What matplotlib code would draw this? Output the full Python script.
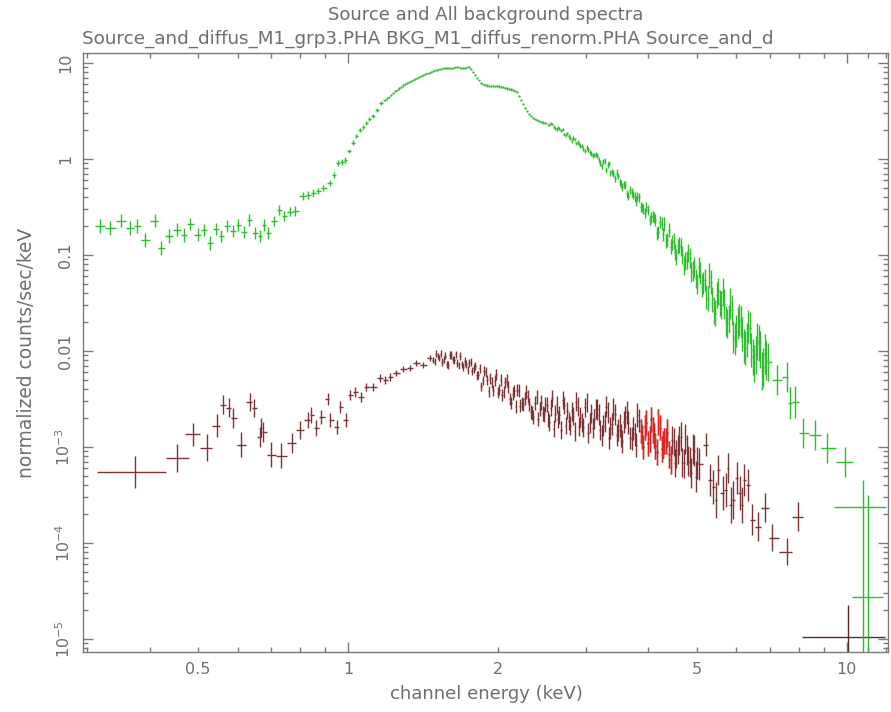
import numpy as np
import matplotlib
matplotlib.use("Agg")
import matplotlib.pyplot as plt
from matplotlib.ticker import FixedLocator, FixedFormatter, NullFormatter

# ---------------- data (energy keV, normalized counts/sec/keV, error in dex) ----------------
# Source spectrum (green), low-energy sparse bins
src_lo_E = [0.318, 0.333, 0.351, 0.366, 0.378, 0.392, 0.410, 0.422, 0.438, 0.454, 0.469, 0.482,
            0.500, 0.514, 0.529, 0.544, 0.556, 0.572, 0.588, 0.602, 0.619, 0.634, 0.651, 0.667,
            0.679, 0.691, 0.711, 0.727, 0.744, 0.765, 0.783, 0.812, 0.831, 0.851, 0.871, 0.891,
            0.920, 0.937, 0.955, 0.973, 0.986, 1.005, 1.023, 1.038, 1.058, 1.072, 1.087, 1.102,
            1.122, 1.143, 1.164]
src_lo_v = [0.200, 0.191, 0.226, 0.191, 0.200, 0.143, 0.226, 0.118, 0.158, 0.182, 0.162, 0.210,
            0.162, 0.182, 0.133, 0.187, 0.158, 0.200, 0.178, 0.205, 0.174, 0.232, 0.170, 0.158,
            0.205, 0.170, 0.226, 0.294, 0.255, 0.281, 0.287, 0.412, 0.422, 0.443, 0.464, 0.499,
            0.562, 0.681, 0.908, 0.931, 0.977, 1.21, 1.47, 1.74, 2.00, 2.15, 2.37, 2.61,
            2.81, 3.24, 3.83]
src_lo_err = [0.07, 0.07, 0.068, 0.07, 0.07, 0.072, 0.068, 0.075, 0.07, 0.068, 0.07, 0.065, 0.068,
              0.066, 0.07, 0.065, 0.066, 0.062, 0.064, 0.062, 0.064, 0.06, 0.062, 0.062, 0.058,
              0.06, 0.055, 0.05, 0.05, 0.048, 0.048, 0.04, 0.04, 0.038, 0.036, 0.035, 0.033,
              0.032, 0.03, 0.029, 0.028, 0.026, 0.025, 0.024, 0.022, 0.021, 0.02, 0.02,
              0.02, 0.019, 0.018]

# Source spectrum, peak region (two interleaved channel sets)
src_mid_E = [1.186, 1.208, 1.231, 1.254, 1.277, 1.301, 1.325, 1.350, 1.375, 1.400, 1.427, 1.453,
             1.480, 1.508, 1.536, 1.565, 1.594, 1.624, 1.654, 1.685, 1.716, 1.748, 1.781, 1.814,
             1.848, 1.882, 1.917, 1.953, 1.989, 2.026, 2.064, 2.102, 2.141, 2.182, 2.222, 2.263,
             2.305, 2.349, 2.392, 2.436, 2.482]
src_mid_v = [4.12, 4.43, 4.87, 5.23, 5.62, 6.04, 6.34, 6.65, 6.98, 7.33, 7.68, 7.87, 8.25, 8.45,
             8.66, 8.87, 8.87, 8.87, 9.09, 8.87, 8.87, 9.09, 8.06, 6.98, 6.19, 5.90, 5.76, 5.76,
             5.76, 5.62, 5.49, 5.36, 5.23, 4.99, 4.12, 3.40, 2.94, 2.67, 2.55, 2.43, 2.37]
src_mid_err = [0.012, 0.011, 0.012, 0.011, 0.01, 0.011, 0.01, 0.01, 0.011, 0.01,
               0.01, 0.009, 0.01, 0.009, 0.01, 0.009, 0.009, 0.01, 0.009, 0.009,
               0.009, 0.01, 0.009, 0.009, 0.01, 0.01, 0.01, 0.011, 0.01, 0.011,
               0.011, 0.011, 0.012, 0.012, 0.012, 0.013, 0.013, 0.013, 0.014, 0.014, 0.015]
src_mid2_E = [1.197, 1.219, 1.242, 1.265, 1.289, 1.313, 1.338, 1.362, 1.388, 1.413, 1.440, 1.466,
              1.494, 1.522, 1.550, 1.579, 1.609, 1.639, 1.669, 1.700, 1.732, 1.764, 1.797, 1.830,
              1.865, 1.899, 1.935, 1.971, 2.007, 2.045, 2.083, 2.122, 2.161, 2.202, 2.243, 2.284,
              2.327, 2.370, 2.414, 2.459]
src_mid2_v = [4.27, 4.64, 5.05, 5.42, 5.83, 6.19, 6.49, 6.81, 7.15, 7.50, 7.78, 8.06, 8.35, 8.56,
              8.76, 8.87, 8.76, 8.98, 8.98, 8.87, 8.98, 8.66, 7.50, 6.57, 5.97, 5.83, 5.76, 5.69,
              5.69, 5.56, 5.42, 5.30, 5.11, 4.53, 3.74, 3.16, 2.81, 2.61, 2.49, 2.40]
src_mid2_err = [0.012, 0.012, 0.011, 0.011, 0.011, 0.01, 0.01, 0.011, 0.01, 0.01,
                0.009, 0.01, 0.009, 0.009, 0.009, 0.01, 0.009, 0.009, 0.009, 0.01,
                0.009, 0.009, 0.01, 0.01, 0.01, 0.011, 0.01, 0.01, 0.011, 0.011,
                0.011, 0.012, 0.012, 0.012, 0.013, 0.013, 0.013, 0.014, 0.014, 0.015]

# Source spectrum, high-energy dense region (two interleaved channel sets)
src_hi_E = [2.528, 2.563, 2.599, 2.635, 2.673, 2.710, 2.748, 2.786, 2.824, 2.864, 2.903, 2.944,
            2.985, 3.027, 3.069, 3.112, 3.155, 3.199, 3.244, 3.289, 3.334, 3.381, 3.428, 3.476,
            3.524, 3.573, 3.623, 3.674, 3.725, 3.777, 3.830, 3.883, 3.937, 3.992, 4.048, 4.104,
            4.161, 4.220, 4.278, 4.338, 4.399, 4.460, 4.522, 4.585, 4.649, 4.713, 4.779, 4.846,
            4.913, 4.982, 5.051, 5.122, 5.193, 5.265, 5.339, 5.413, 5.488, 5.565, 5.642, 5.721,
            5.800, 5.881, 5.963, 6.046, 6.130, 6.216, 6.302, 6.390, 6.479, 6.569, 6.661, 6.754,
            6.848, 6.943]
src_hi_v = [2.274, 2.316, 2.078, 2.116, 1.981, 1.800, 1.844, 1.645, 1.665, 1.450, 1.433, 1.374,
            1.219, 1.256, 1.134, 1.101, 1.075, 0.908, 0.942, 0.768, 0.898, 0.732, 0.626, 0.665,
            0.549, 0.543, 0.427, 0.475, 0.422, 0.365, 0.397, 0.312, 0.274, 0.291, 0.246, 0.243,
            0.1675, 0.2207, 0.1634, 0.1399, 0.1821, 0.1349, 0.1075, 0.1226, 0.1212, 0.0777,
            0.0887, 0.0931, 0.0681, 0.0569, 0.0732, 0.0475, 0.0549, 0.0348, 0.0517, 0.0261,
            0.0383, 0.0316, 0.0412, 0.0205, 0.0215, 0.0267, 0.01334, 0.01957, 0.02005, 0.01128,
            0.01302, 0.01738, 0.00866, 0.00909, 0.01212, 0.00619, 0.00930, 0.00768]
src_hi_err = [0.015, 0.015, 0.016, 0.016, 0.017, 0.018, 0.018, 0.019, 0.02, 0.02, 0.021, 0.022,
              0.022, 0.023, 0.024, 0.025, 0.026,
              0.028, 0.03, 0.032, 0.03, 0.034, 0.036, 0.035, 0.038, 0.04, 0.042, 0.04, 0.045,
              0.048, 0.046, 0.05, 0.055, 0.052,
              0.06, 0.058, 0.065, 0.062, 0.07, 0.075, 0.07, 0.08, 0.085, 0.08, 0.09, 0.095,
              0.09, 0.1, 0.105, 0.1, 0.11,
              0.12, 0.115, 0.13, 0.125, 0.14, 0.135, 0.14, 0.15, 0.16, 0.15, 0.16, 0.17, 0.165,
              0.17, 0.18, 0.18, 0.17, 0.19, 0.2, 0.19, 0.2, 0.21, 0.2]
src_hi2_E = [2.546, 2.581, 2.617, 2.653, 2.692, 2.729, 2.767, 2.805, 2.844, 2.884, 2.923, 2.964,
             3.006, 3.048, 3.090, 3.134, 3.177, 3.221, 3.267, 3.312, 3.357, 3.404, 3.452, 3.500,
             3.548, 3.598, 3.648, 3.700, 3.751, 3.803, 3.857, 3.910, 3.964, 4.020, 4.076, 4.132,
             4.190, 4.249, 4.308, 4.368, 4.430, 4.491, 4.553, 4.617, 4.681, 4.746, 4.812, 4.880,
             4.947, 5.017, 5.086, 5.158, 5.229, 5.302, 5.376, 5.451, 5.526, 5.604, 5.681, 5.761,
             5.840, 5.922, 6.004, 6.088, 6.173, 6.259, 6.346, 6.434, 6.524, 6.615, 6.707, 6.801,
             6.896]
src_hi2_v = [2.357, 2.154, 2.041, 2.066, 2.029, 1.757, 1.726, 1.540, 1.596, 1.495, 1.366, 1.271,
             1.318, 1.183, 1.088, 1.107, 0.988, 0.846, 0.947, 0.861, 0.715, 0.702, 0.719, 0.573,
             0.508, 0.536, 0.412, 0.448, 0.407, 0.402, 0.316, 0.298, 0.314, 0.2315, 0.2533,
             0.2301, 0.1726, 0.2116, 0.2091, 0.1433, 0.1219, 0.1390, 0.0959, 0.1264, 0.1006,
             0.0861, 0.1049, 0.0665, 0.0745, 0.0502, 0.0649, 0.0511, 0.0365, 0.0608, 0.0346,
             0.0249, 0.0417, 0.0301, 0.0309, 0.01934, 0.0316, 0.0140, 0.01615, 0.0210, 0.01503,
             0.01075, 0.0180, 0.01024, 0.00741, 0.01256, 0.01037, 0.00673, 0.00796]
src_hi2_err = [0.015, 0.016, 0.016, 0.017, 0.017, 0.018, 0.019, 0.019, 0.02, 0.021, 0.021, 0.022,
               0.023, 0.024, 0.024, 0.025, 0.027,
               0.029, 0.031, 0.031, 0.033, 0.035, 0.036, 0.037, 0.039, 0.041, 0.041, 0.043, 0.046,
               0.047, 0.048, 0.052, 0.053, 0.056,
               0.059, 0.062, 0.063, 0.066, 0.072, 0.072, 0.075, 0.082, 0.082, 0.085, 0.092, 0.092,
               0.095, 0.102, 0.102, 0.105,
               0.115, 0.118, 0.122, 0.128, 0.132, 0.138, 0.138, 0.145, 0.155, 0.155, 0.155, 0.165,
               0.168, 0.168, 0.175, 0.18, 0.175, 0.18, 0.195, 0.195, 0.195, 0.205, 0.205]

# Source spectrum, sparse tail
src_tail_E = [7.24, 7.58, 7.68, 7.86, 8.16, 8.62, 9.14, 9.90]
src_tail_v = [0.00499, 0.00536, 0.00287, 0.00294, 0.00140, 0.00133, 0.000977, 0.000698]
src_tail_err = [0.16, 0.16, 0.17, 0.17, 0.16, 0.16, 0.16, 0.16]

# Source spectrum, last two wide bins (lower error reaches zero)
src_end_E = [10.77, 11.02]
src_end_v = [2.37e-4, 2.74e-5]
src_end_lo = [9.43, 10.26]
src_end_hi = [11.97, 11.84]
src_end_top = [4.53e-4, 3.16e-4]

# Background spectrum (dark red), low-energy sparse bins
bkg_lo_E = [0.374, 0.454, 0.489, 0.522, 0.546, 0.562, 0.577, 0.588, 0.610, 0.636, 0.648, 0.666,
            0.669, 0.675, 0.701, 0.734, 0.772, 0.801, 0.832, 0.843, 0.863, 0.883, 0.912, 0.920,
            0.950, 0.964, 0.991, 1.009, 1.033, 1.062, 1.087, 1.122, 1.159, 1.186, 1.214, 1.248,
            1.289, 1.331, 1.369, 1.413, 1.460]
bkg_lo_v = [5.49e-4, 7.67e-4, 1.36e-3, 9.77e-4, 1.66e-3, 2.74e-3, 2.55e-3, 2.00e-3, 1.05e-3,
            2.94e-3, 2.55e-3, 1.27e-3, 1.58e-3, 1.43e-3, 8.26e-4, 8.06e-4, 1.10e-3, 1.50e-3,
            1.91e-3, 2.15e-3, 1.58e-3, 2.05e-3, 3.16e-3, 1.91e-3, 1.62e-3, 2.61e-3, 1.91e-3,
            3.48e-3, 3.74e-3, 3.32e-3, 4.22e-3, 4.22e-3, 5.23e-3, 4.99e-3, 5.36e-3, 5.90e-3,
            6.49e-3, 6.65e-3, 7.50e-3, 7.15e-3, 8.45e-3]
bkg_lo_err = [0.17, 0.15, 0.12, 0.14, 0.12, 0.1, 0.1, 0.1, 0.13, 0.09,
              0.09, 0.1, 0.1, 0.1, 0.13, 0.13, 0.1, 0.09, 0.08, 0.08,
              0.08, 0.07, 0.06, 0.07, 0.07, 0.06, 0.07, 0.05, 0.05, 0.05,
              0.045, 0.045, 0.04, 0.04, 0.04, 0.035, 0.035, 0.035, 0.03, 0.03, 0.03]
bkg_first_bins_lo = [0.313, 0.432]
bkg_first_bins_hi = [0.432, 0.480]

# Background spectrum, dense region (two interleaved channel sets)
bkg_mid_E = [1.480, 1.501, 1.522, 1.543, 1.565, 1.587, 1.609, 1.631, 1.654, 1.677, 1.700, 1.724,
             1.748, 1.772, 1.797, 1.822, 1.848, 1.873, 1.899, 1.926, 1.953, 1.980, 2.007, 2.035,
             2.064, 2.093, 2.122, 2.151, 2.182, 2.212, 2.243, 2.274, 2.305, 2.337, 2.370, 2.403,
             2.436, 2.470, 2.505, 2.528, 2.563, 2.599, 2.635, 2.673, 2.710, 2.748, 2.786, 2.824,
             2.864, 2.903, 2.944, 2.985, 3.027, 3.069, 3.112, 3.155, 3.199, 3.244, 3.289, 3.334,
             3.381, 3.428, 3.476, 3.524, 3.573, 3.623, 3.674, 3.725, 3.777, 3.830, 3.883, 3.937,
             3.992, 4.048, 4.104, 4.161, 4.220, 4.278, 4.338, 4.399, 4.460, 4.522, 4.585, 4.649,
             4.713, 4.779, 4.846, 4.913, 4.982, 5.051]
bkg_mid_v = [8.06e-3, 9.30e-3, 8.45e-3, 7.68e-3, 8.87e-3, 7.15e-3, 9.08e-3, 8.06e-3, 7.50e-3,
             8.87e-3, 6.81e-3, 7.33e-3, 7.50e-3, 6.19e-3, 6.98e-3, 5.62e-3, 4.27e-3, 6.19e-3,
             4.99e-3, 5.17e-3, 3.88e-3, 5.69e-3, 3.93e-3, 3.48e-3, 4.70e-3, 4.22e-3, 2.86e-3,
             3.80e-3, 3.93e-3, 2.67e-3, 2.77e-3, 3.73e-3, 2.78e-3, 2.27e-3, 2.84e-3, 1.97e-3,
             2.92e-3, 2.20e-3, 2.75e-3, 1.80e-3, 3.21e-3, 2.21e-3, 1.93e-3, 1.50e-3, 2.71e-3,
             2.39e-3, 1.66e-3, 2.09e-3, 2.97e-3, 1.62e-3, 1.81e-3, 2.58e-3, 1.41e-3, 2.25e-3,
             1.97e-3, 2.47e-3, 1.50e-3, 1.66e-3, 2.61e-3, 1.24e-3, 1.75e-3, 2.18e-3, 1.49e-3,
             1.30e-3, 1.83e-3, 2.29e-3, 1.24e-3, 1.54e-3, 1.05e-3, 1.88e-3, 1.28e-3, 1.60e-3,
             1.09e-3, 1.94e-3, 1.31e-3, 8.91e-4, 1.58e-3, 1.05e-3, 1.15e-3, 8.39e-4, 1.18e-3,
             6.81e-4, 9.35e-4, 1.28e-3, 6.75e-4, 9.31e-4, 6.98e-4, 9.44e-4, 4.90e-4, 6.62e-4]
bkg_mid_err = [0.035, 0.036, 0.035, 0.038, 0.037, 0.04, 0.038, 0.04, 0.041, 0.04, 0.042, 0.043,
               0.042, 0.045, 0.044, 0.046,
               0.05, 0.05, 0.052, 0.055, 0.054, 0.057, 0.058, 0.06, 0.06, 0.062, 0.064, 0.063,
               0.066, 0.068, 0.067, 0.07, 0.07, 0.072, 0.074, 0.073, 0.076, 0.078, 0.08,
               0.085, 0.09, 0.088, 0.09, 0.095, 0.09, 0.092, 0.1, 0.095, 0.098, 0.1, 0.1, 0.1,
               0.105, 0.1, 0.105, 0.11, 0.105, 0.11, 0.11, 0.112, 0.115, 0.11, 0.115, 0.12,
               0.115, 0.12, 0.118, 0.12, 0.125, 0.12, 0.125, 0.128, 0.13,
               0.13, 0.132, 0.135, 0.13, 0.14, 0.138, 0.14, 0.145, 0.142, 0.15, 0.148, 0.15,
               0.155, 0.16, 0.158, 0.165, 0.17]
bkg_mid2_E = [1.490, 1.511, 1.533, 1.554, 1.576, 1.598, 1.620, 1.642, 1.665, 1.689, 1.712, 1.736,
              1.760, 1.784, 1.809, 1.835, 1.861, 1.886, 1.912, 1.939, 1.966, 1.994, 2.021, 2.049,
              2.078, 2.108, 2.137, 2.166, 2.197, 2.227, 2.259, 2.290, 2.321, 2.353, 2.386, 2.420,
              2.453, 2.487, 2.517, 2.546, 2.581, 2.617, 2.653, 2.692, 2.729, 2.767, 2.805, 2.844,
              2.884, 2.923, 2.964, 3.006, 3.048, 3.090, 3.134, 3.177, 3.221, 3.267, 3.312, 3.357,
              3.404, 3.452, 3.500, 3.548, 3.598, 3.648, 3.700, 3.751, 3.803, 3.857, 3.910, 3.964,
              4.020, 4.076, 4.132, 4.190, 4.249, 4.308, 4.368, 4.430, 4.491, 4.553, 4.617, 4.681,
              4.746, 4.812, 4.880, 4.947, 5.017]
bkg_mid2_v = [7.68e-3, 8.87e-3, 9.30e-3, 8.06e-3, 7.23e-3, 9.08e-3, 8.15e-3, 9.19e-3, 7.06e-3,
              7.23e-3, 7.78e-3, 6.26e-3, 7.68e-3, 6.57e-3, 5.56e-3, 6.57e-3, 4.93e-3, 6.04e-3,
              3.79e-3, 4.67e-3, 4.90e-3, 3.67e-3, 4.96e-3, 3.72e-3, 5.02e-3, 3.18e-3, 3.59e-3,
              2.65e-3, 3.83e-3, 2.84e-3, 3.21e-3, 3.36e-3, 2.31e-3, 2.06e-3, 3.31e-3, 2.50e-3,
              2.23e-3, 2.79e-3, 1.95e-3, 2.55e-3, 1.55e-3, 2.79e-3, 2.16e-3, 3.07e-3, 1.67e-3,
              1.87e-3, 2.36e-3, 1.45e-3, 2.62e-3, 2.05e-3, 1.60e-3, 2.90e-3, 1.78e-3, 1.56e-3,
              2.48e-3, 2.17e-3, 1.32e-3, 1.84e-3, 2.29e-3, 1.57e-3, 2.49e-3, 1.33e-3, 1.66e-3,
              1.14e-3, 2.05e-3, 1.79e-3, 1.23e-3, 1.35e-3, 2.14e-3, 1.46e-3, 1.00e-3, 1.78e-3,
              1.21e-3, 1.50e-3, 1.02e-3, 1.80e-3, 9.53e-4, 1.15e-3, 1.39e-3, 7.30e-4, 1.13e-3,
              8.47e-4, 1.16e-3, 6.90e-4, 1.21e-3, 7.15e-4, 5.33e-4, 9.17e-4, 6.81e-4]
bkg_mid2_err = [0.036, 0.035, 0.037, 0.037, 0.039, 0.039, 0.039, 0.041, 0.04, 0.041, 0.043, 0.042,
                0.044, 0.045, 0.045, 0.048,
                0.05, 0.051, 0.054, 0.054, 0.056, 0.058, 0.059, 0.06, 0.061, 0.063, 0.064, 0.065,
                0.067, 0.068, 0.069, 0.07, 0.071, 0.073, 0.074, 0.075, 0.077, 0.079, 0.082,
                0.088, 0.089, 0.089, 0.093, 0.092, 0.091, 0.096, 0.098, 0.097, 0.099, 0.1, 0.1,
                0.103, 0.103, 0.103, 0.108, 0.108, 0.108, 0.11, 0.111, 0.114, 0.113, 0.113, 0.118,
                0.118, 0.118, 0.119, 0.119, 0.123, 0.123, 0.123, 0.127, 0.129,
                0.131, 0.134, 0.133, 0.135, 0.139, 0.139, 0.143, 0.144, 0.146, 0.149, 0.149,
                0.153, 0.156, 0.158, 0.159, 0.162, 0.168]

# Background spectrum, sparse tail
bkg_tail_E = [5.23, 5.32, 5.39, 5.47, 5.51, 5.64, 5.72, 5.77, 5.85, 5.91, 6.02, 6.10, 6.16,
              6.22, 6.33, 6.45, 6.63, 6.85, 7.08, 7.58, 7.97]
bkg_tail_v = [1.05e-3, 4.53e-4, 3.83e-4, 2.81e-4, 5.75e-4, 3.32e-4, 3.56e-4, 6.04e-4, 2.49e-4,
              2.81e-4, 4.75e-4, 3.32e-4, 2.49e-4, 4.53e-4, 4.02e-4, 1.74e-4, 1.47e-4, 2.32e-4,
              1.13e-4, 8.06e-5, 1.87e-4]
bkg_tail_err = [0.12, 0.17, 0.18, 0.19, 0.16, 0.18, 0.18, 0.16, 0.19, 0.2, 0.17, 0.18, 0.19,
                0.17, 0.17, 0.16, 0.15, 0.15, 0.14, 0.14, 0.15]

# Background, last wide bin (lower error reaches zero)
bkg_end_E = [10.04]
bkg_end_v = [1.05e-5]
bkg_end_lo = [8.12]
bkg_end_hi = [11.92]
bkg_end_top = [2.26e-5]

x_ticks = [0.5, 1, 2, 5, 10]
x_ticklabels = ["0.5", "1", "2", "5", "10"]
y_ticks = [1e-5, 1e-4, 1e-3, 0.01, 0.1, 1, 10]
y_ticklabels = [r"$10^{-5}$", r"$10^{-4}$", r"$10^{-3}$", "0.01", "0.1", "1", "10"]

title1 = "Source and All background spectra"
title2 = "Source_and_diffus_M1_grp3.PHA BKG_M1_diffus_renorm.PHA Source_and_d"
xlabel = "channel energy (keV)"
ylabel = "normalized counts/sec/keV"


# ---------------- helpers ----------------
def merge(*parts):
    E = np.concatenate([np.asarray(p[0], float) for p in parts])
    V = np.concatenate([np.asarray(p[1], float) for p in parts])
    D = np.concatenate([np.asarray(p[2], float) for p in parts])
    n = min(len(E), len(V), len(D))
    E, V, D = E[:n], V[:n], D[:n]
    o = np.argsort(E, kind="stable")
    return E[o], V[o], D[o]


def bin_halfwidths(E):
    E = np.asarray(E, float)
    mids = np.sqrt(E[1:] * E[:-1])
    lo = np.empty_like(E)
    hi = np.empty_like(E)
    lo[1:] = mids
    hi[:-1] = mids
    lo[0] = E[0] ** 2 / mids[0]
    hi[-1] = E[-1] ** 2 / mids[-1]
    return E - lo, hi - E


def dex_err(v, d):
    v = np.asarray(v, float)
    d = np.asarray(d, float)
    return np.vstack([v * (1 - 10 ** (-d)), v * (10 ** d - 1)])


GREEN = "#2dbd2d"
DARK = "#7e3434"
RED = "#e02424"
TXT = "#6e6e6e"
AX = "#7a7a7a"

fig = plt.figure(figsize=(8.91, 7.12), dpi=100)
ax = fig.add_axes([83 / 891, 1 - 652 / 712, (888 - 83) / 891, (652 - 53) / 712])
ax.set_xscale("log")
ax.set_yscale("log")

# ---- background ----
bE, bV, bD = merge((bkg_lo_E, bkg_lo_v, bkg_lo_err), (bkg_mid_E, bkg_mid_v, bkg_mid_err),
                   (bkg_mid2_E, bkg_mid2_v, bkg_mid2_err), (bkg_tail_E, bkg_tail_v, bkg_tail_err))
bxl, bxh = bin_halfwidths(bE)
for i in range(len(bkg_first_bins_lo)):
    bxl[i] = bE[i] - bkg_first_bins_lo[i]
    bxh[i] = bkg_first_bins_hi[i] - bE[i]
byerr = dex_err(bV, bD)
ax.errorbar(bE, bV, xerr=[bxl, bxh], yerr=byerr, fmt="none", ecolor=DARK,
            elinewidth=1.0, capsize=0, zorder=2)
sel = (bE > 3.85) & (bE < 4.45)
ax.errorbar(bE[sel], bV[sel], xerr=[bxl[sel], bxh[sel]], yerr=byerr[:, sel], fmt="none",
            ecolor=RED, elinewidth=1.0, capsize=0, zorder=3)
bev = np.array(bkg_end_v)
ax.errorbar(bkg_end_E, bkg_end_v,
            xerr=[np.array(bkg_end_E) - bkg_end_lo, np.array(bkg_end_hi) - bkg_end_E],
            yerr=[bev * 0.999, np.array(bkg_end_top) - bev], fmt="none", ecolor="#5a2a2a",
            elinewidth=1.0, capsize=0, zorder=2)

# ---- source ----
sE, sV, sD = merge((src_lo_E, src_lo_v, src_lo_err), (src_mid_E, src_mid_v, src_mid_err),
                   (src_mid2_E, src_mid2_v, src_mid2_err), (src_hi_E, src_hi_v, src_hi_err),
                   (src_hi2_E, src_hi2_v, src_hi2_err), (src_tail_E, src_tail_v, src_tail_err))
sxl, sxh = bin_halfwidths(sE)
ax.errorbar(sE, sV, xerr=[sxl, sxh], yerr=dex_err(sV, sD), fmt="none", ecolor=GREEN,
            elinewidth=1.0, capsize=0, zorder=4)
sev = np.array(src_end_v)
ax.errorbar(src_end_E, src_end_v,
            xerr=[np.array(src_end_E) - src_end_lo, np.array(src_end_hi) - src_end_E],
            yerr=[sev * 0.999, np.array(src_end_top) - sev], fmt="none", ecolor=GREEN,
            elinewidth=1.0, capsize=0, zorder=4)

ax.set_xlim(0.294, 12.09)
ax.set_ylim(7.3e-6, 12.7)

# ---- axes styling ----
for s in ax.spines.values():
    s.set_color(AX)
    s.set_linewidth(1.0)

ax.xaxis.set_major_locator(FixedLocator(x_ticks))
ax.xaxis.set_major_formatter(FixedFormatter(x_ticklabels))
ax.xaxis.set_minor_locator(FixedLocator([0.3, 0.4, 0.6, 0.7, 0.8, 0.9, 3, 4, 6, 7, 8, 9, 11, 12]))
ax.xaxis.set_minor_formatter(NullFormatter())
ax.yaxis.set_major_locator(FixedLocator(y_ticks))
ax.yaxis.set_major_formatter(FixedFormatter(y_ticklabels))
yminor = [m * 10.0 ** e for e in range(-6, 2) for m in range(2, 10)]
ax.yaxis.set_minor_locator(FixedLocator(yminor))
ax.yaxis.set_minor_formatter(NullFormatter())

ax.tick_params(which="both", direction="in", top=True, right=True, color=AX, width=1.0,
               labelcolor=TXT, labelsize=11.5)
ax.tick_params(which="major", length=7)
ax.tick_params(which="minor", length=3.5)
ax.tick_params(axis="x", pad=7)
ax.tick_params(axis="y", labelrotation=90, pad=7)
for lab in ax.get_yticklabels():
    lab.set_verticalalignment("center")

fig.canvas.draw()
for t, val in zip(ax.xaxis.get_major_ticks(), x_ticks):
    if val in (0.5, 2, 5):
        t.tick1line.set_markersize(3.5)
        t.tick2line.set_markersize(3.5)

fig.text(486 / 891, 1 - 15 / 712, title1, ha="center", va="center", color=TXT, fontsize=13)
fig.text(82 / 891, 1 - 39 / 712, title2, ha="left", va="center", color=TXT, fontsize=13.2)
fig.text(486 / 891, 1 - 694 / 712, xlabel, ha="center", va="center", color=TXT, fontsize=13)
fig.text(27 / 891, 1 - 353 / 712, ylabel, ha="center", va="center", rotation=90,
         color=TXT, fontsize=13.4)

fig.savefig("out.png", dpi=100, facecolor="white")
